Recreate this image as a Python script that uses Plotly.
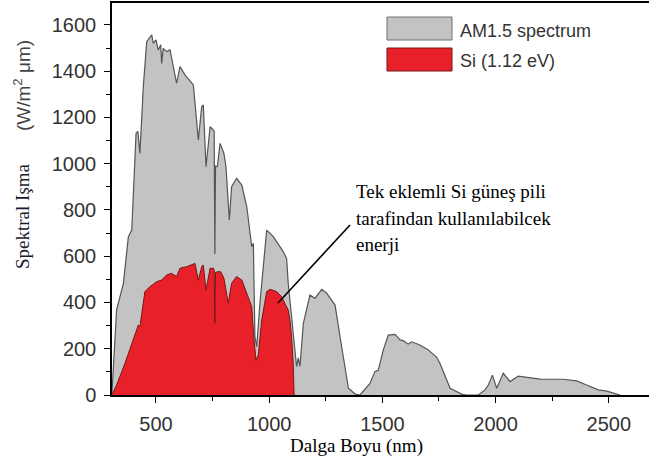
import plotly.graph_objects as go

# ---- data ----
am15_nm = [305, 326, 356, 378, 393, 412, 420, 429, 444, 459, 481, 488, 500, 510, 521, 525, 532,
           547, 562, 591, 606, 628, 665, 687, 702, 709, 721, 739, 753, 757, 760, 763, 771, 783,
           800, 809, 824, 834, 856, 879, 901, 915, 923, 930, 937, 945, 959, 989, 1018, 1062,
           1077, 1084, 1099, 1114, 1121, 1128, 1136, 1151, 1180, 1202, 1232, 1254, 1291, 1313,
           1335, 1350, 1380, 1401, 1445, 1467, 1482, 1504, 1526, 1556, 1578, 1592, 1614, 1629,
           1666, 1703, 1740, 1754, 1799, 1828, 1850, 1870, 1924, 1953, 1968, 1986, 2005, 2034,
           2064, 2100, 2152, 2196, 2299, 2358, 2402, 2454, 2491, 2535, 2550]
am15_val = [0, 368, 483, 685, 713, 1132, 1140, 1045, 1333, 1528, 1557, 1521, 1535, 1492, 1514, 1434, 1499,
            1485, 1492, 1348, 1420, 1384, 1341, 1103, 1247, 1254, 987, 1160, 1146, 1140, 610, 990, 987, 1088,
            1045, 987, 757, 901, 937, 908, 814, 685, 641, 656, 252, 209, 397, 713, 685, 620,
            590, 483, 339, 195, 123, 160, 125, 310, 432, 418, 457, 440, 389, 252,
            108, 29, 4, 0, 50, 101, 108, 195, 259, 262, 238, 235, 220, 230,
            216, 195, 163, 137, 29, 14, 4, 0, 0, 22, 43, 86, 29, 94,
            58, 82, 76, 69, 68, 61, 43, 22, 17, 4, 0]

si_nm = [305, 326, 363, 400, 415, 422, 429, 441, 451, 473, 503, 525, 547, 569, 591, 606, 636, 672,
         687, 702, 709, 721, 739, 753, 757, 760, 763, 771, 786, 800, 819, 834, 856, 879, 901, 923,
         933, 942, 952, 967, 989, 1004, 1033, 1055, 1070, 1084, 1092, 1099, 1106, 1110]
si_val = [0, 43, 137, 238, 281, 303, 295, 382, 447, 468, 490, 497, 519, 526, 512, 548, 555, 569,
          497, 555, 562, 454, 548, 548, 540, 310, 530, 533, 533, 505, 397, 483, 512, 497, 440, 382,
          238, 151, 173, 324, 447, 457, 447, 425, 395, 368, 320, 252, 137, 0]

x_ticks = [500, 1000, 1500, 2000, 2500]
y_ticks = [0, 200, 400, 600, 800, 1000, 1200, 1400, 1600]

legend_labels = ["AM1.5 spectrum", "Si (1.12 eV)"]
note_lines = ["Tek eklemli Si güneş pili", "tarafindan kullanılabilcek", "enerji"]

# ---- geometry helpers (pixel -> paper) ----
W, H = 649, 461
L, R, T, B = 112, 0, 3, 66
PW, PH = W - L - R, H - T - B


def px(x):
    return (x - L) / PW


def py(y):
    return (H - B - y) / PH


fig = go.Figure()
fig.add_trace(go.Scatter(x=am15_nm, y=am15_val, mode="lines", fill="tozeroy",
                         fillcolor="#c3c3c3", line=dict(color="#555555", width=1.2),
                         name=legend_labels[0], hoverinfo="skip"))
fig.add_trace(go.Scatter(x=si_nm, y=si_val, mode="lines", fill="tozeroy",
                         fillcolor="#e8202a", line=dict(color="#7a1414", width=1),
                         name=legend_labels[1], hoverinfo="skip"))

tickfont = dict(family="Liberation Sans, Arial", size=20, color="#333333")
fig.update_layout(
    width=W, height=H, margin=dict(l=L, r=R, t=T, b=B),
    plot_bgcolor="white", paper_bgcolor="white", showlegend=False,
    xaxis=dict(range=[305.7, 2677.6], tickmode="array", tickvals=x_ticks,
               showline=True, linecolor="black", linewidth=1.5, mirror=True,
               ticks="outside", ticklen=6, tickwidth=1.2, tickcolor="black",
               tickfont=tickfont, ticklabelstandoff=4,
               minor=dict(dtick=250, tick0=0, ticks="outside", ticklen=4, tickcolor="black", tickwidth=1.2),
               showgrid=False, zeroline=False),
    yaxis=dict(range=[0, 1695], tickmode="array", tickvals=y_ticks,
               showline=True, linecolor="black", linewidth=1.5,
               ticks="outside", ticklen=6, tickwidth=1.2, tickcolor="black",
               tickfont=tickfont, ticklabelstandoff=4,
               minor=dict(dtick=100, tick0=0, ticks="outside", ticklen=4, tickcolor="black", tickwidth=1.2),
               showgrid=False, zeroline=False),
)

# legend boxes
fig.add_shape(type="rect", xref="paper", yref="paper", x0=px(387), x1=px(452), y0=py(40), y1=py(17),
              fillcolor="#c3c3c3", line=dict(color="#707070", width=1))
fig.add_shape(type="rect", xref="paper", yref="paper", x0=px(387), x1=px(452), y0=py(71), y1=py(48),
              fillcolor="#e8202a", line=dict(color="#7a1414", width=1))
for lbl, yy in zip(legend_labels, [31, 61]):
    fig.add_annotation(xref="paper", yref="paper", x=px(458), y=py(yy), text=lbl, showarrow=False,
                       xanchor="left", yanchor="middle",
                       font=dict(family="Liberation Sans, Arial", size=18, color="#333333"))

# callout text + pointer line
for line, yy in zip(note_lines, [192, 218, 244]):
    fig.add_annotation(xref="paper", yref="paper", x=px(354), y=py(yy), text=line, showarrow=False,
                       xanchor="left", yanchor="middle",
                       font=dict(family="Liberation Serif, Times New Roman", size=19, color="black"))
fig.add_shape(type="line", xref="x", yref="y", x0=1039, y0=398, x1=1357, y1=735,
              line=dict(color="black", width=1.6))

# axis titles
fig.add_annotation(xref="paper", yref="paper", x=px(356), y=py(446), text="Dalga Boyu (nm)",
                   showarrow=False, xanchor="center", yanchor="middle",
                   font=dict(family="Liberation Serif, Times New Roman", size=19, color="black"))
fig.add_annotation(xref="paper", yref="paper", x=px(22), y=py(216), text="Spektral Işma",
                   showarrow=False, textangle=-90, xanchor="center", yanchor="middle",
                   font=dict(family="Liberation Serif, Times New Roman", size=19, color="#1a1a2e"))
fig.add_annotation(xref="paper", yref="paper", x=px(22), y=py(86), text="(W/m<sup>2</sup> μm)",
                   showarrow=False, textangle=-90, xanchor="center", yanchor="middle",
                   font=dict(family="Liberation Sans, Arial", size=19, color="#444444"))

fig.write_html("out.html")
